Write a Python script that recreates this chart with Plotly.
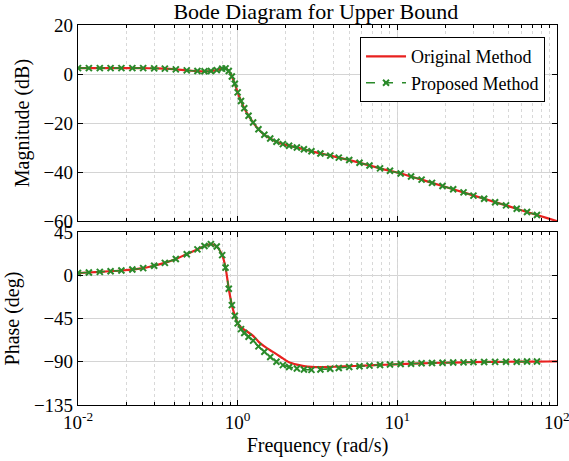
import plotly.graph_objects as go

# ---------------- data ----------------
freq_prop = [0.1, 0.117, 0.137, 0.16, 0.187, 0.219, 0.256, 0.3, 0.35, 0.41, 0.48, 0.56, 0.62, 0.68,
             0.74, 0.8, 0.84, 0.88, 0.92, 0.96, 1.0, 1.05, 1.1, 1.17, 1.25, 1.35, 1.47, 1.6, 1.75,
             1.92, 2.1, 2.35, 2.6, 2.9, 3.3, 3.8, 4.3, 5.0, 5.8, 6.7, 7.8, 9.0, 10.5, 12.2, 14.2,
             16.5, 19.2, 22.4, 26, 30, 35, 41, 48, 56, 65, 75]
mag_prop = [2.4, 2.4, 2.4, 2.4, 2.4, 2.4, 2.4, 2.3, 2.2, 1.9, 1.5, 1.2, 1.1, 1.2,
            1.6, 2.2, 2.3, 1.2, -1.0, -4.0, -7.5, -11.0, -14.0, -17.0, -19.8, -22.5, -24.8, -26.3, -27.6,
            -28.6, -29.3, -30.0, -30.7, -31.5, -32.4, -33.3, -34.1, -35.1, -36.2, -37.3, -38.5, -39.5, -40.6,
            -41.8, -43.1, -44.4, -45.7, -47.0, -48.3, -49.6, -50.9, -52.3, -53.6, -55.0, -56.3, -57.5]
phase_prop = [2.4, 3.0, 3.6, 4.3, 5.0, 6.0, 7.5, 10.0, 13.0, 17.0, 22.0, 27.0, 30.5, 32.5,
              30.0, 21.0, 8.0, -14.0, -31.0, -42.0, -50.0, -56.0, -60.0, -64.0, -68.0, -74.0, -79.5, -85.0, -90.0,
              -93.5, -95.5, -97.0, -98.0, -98.4, -98.0, -97.3, -96.5, -95.5, -94.7, -94.0, -93.4, -92.9, -92.4,
              -92.0, -91.6, -91.3, -91.0, -90.8, -90.6, -90.4, -90.2, -90.1, -90.0, -89.9, -89.8, -89.7]

freq_orig = [0.1, 0.137, 0.187, 0.256, 0.3, 0.35, 0.41, 0.48, 0.56, 0.62, 0.68, 0.74, 0.8, 0.84,
             0.88, 0.92, 0.96, 1.0, 1.05, 1.1, 1.17, 1.25, 1.35, 1.47, 1.6, 1.75, 1.92, 2.1, 2.35,
             2.6, 2.9, 3.3, 3.8, 4.3, 5.0, 5.8, 6.7, 7.8, 9.0, 10.5, 14.2, 19.2, 26, 35, 48, 65, 87, 100]
mag_orig = [2.4, 2.4, 2.4, 2.4, 2.3, 2.2, 1.9, 1.5, 1.2, 1.1, 1.2, 1.6, 2.2, 2.3,
            1.2, -1.0, -4.0, -7.5, -11.0, -14.0, -17.0, -19.8, -22.5, -24.8, -26.3, -27.6, -28.6, -29.3, -30.0,
            -30.7, -31.5, -32.4, -33.3, -34.1, -35.1, -36.2, -37.3, -38.5, -39.5, -40.6, -43.1, -45.7, -48.3,
            -50.9, -53.6, -56.3, -58.8, -60.0]
phase_orig = [2.4, 3.6, 5.0, 7.5, 10.0, 13.0, 17.0, 22.0, 27.0, 30.5, 32.5, 30.0, 21.0, 8.0,
              -14.0, -31.0, -42.0, -50.0, -54.0, -56.5, -59.5, -63.0, -69.0, -74.0, -78.0, -82.0, -86.5, -90.5, -93.0,
              -94.5, -95.3, -95.5, -95.3, -95.0, -94.6, -94.2, -93.8, -93.3, -92.9, -92.4, -91.6, -91.0, -90.6,
              -90.2, -90.0, -89.8, -89.7, -89.6]

x_tickvals = [0.1, 1, 10, 100]
x_ticktext = ["10<sup>-2</sup>", "10<sup>0</sup>", "10<sup>1</sup>", "10<sup>2</sup>"]
mag_ticks = [-60, -40, -20, 0, 20]
phase_ticks = [-135, -90, -45, 0, 45]

RED = "#e8211f"
GREEN = "#2a8a2a"
FONT = "Times New Roman, Liberation Serif, DejaVu Serif, serif"
XRANGE = [-1, 2.0005]

fig = go.Figure()
line_orig = dict(color=RED, width=2.2, shape="spline", smoothing=0.6)
line_prop = dict(color=GREEN, width=1.6, dash="dash", shape="spline", smoothing=0.6)
mk_prop = dict(symbol="x-thin-open", size=6, line=dict(color=GREEN, width=2))

fig.add_trace(go.Scatter(x=freq_orig, y=mag_orig, mode="lines", name="Original Method",
                         line=line_orig, xaxis="x", yaxis="y"))
fig.add_trace(go.Scatter(x=freq_prop, y=mag_prop, mode="lines+markers", name="Proposed Method",
                         line=line_prop, marker=mk_prop, xaxis="x", yaxis="y"))
fig.add_trace(go.Scatter(x=freq_orig, y=phase_orig, mode="lines", showlegend=False,
                         line=line_orig, xaxis="x2", yaxis="y2"))
fig.add_trace(go.Scatter(x=freq_prop, y=phase_prop, mode="lines+markers", showlegend=False,
                         line=line_prop, marker=mk_prop, xaxis="x2", yaxis="y2"))
# invisible traces so that minor-grid overlay axes are drawn
fig.add_trace(go.Scatter(x=[freq_orig[0]], y=[mag_orig[0]], mode="markers", showlegend=False,
                         marker=dict(opacity=0), hoverinfo="skip", xaxis="x3", yaxis="y"))
fig.add_trace(go.Scatter(x=[freq_orig[0]], y=[phase_orig[0]], mode="markers", showlegend=False,
                         marker=dict(opacity=0), hoverinfo="skip", xaxis="x4", yaxis="y2"))

common_x = dict(type="log", range=XRANGE, showline=True, linecolor="black", linewidth=1.2,
                mirror="ticks", ticks="inside", ticklen=5, tickcolor="black",
                showgrid=True, gridcolor="#d4d4d4", gridwidth=1, automargin=False,
                ticklabeloverflow="allow",
                tickvals=x_tickvals, ticktext=x_ticktext, zeroline=False, layer="above traces")
minor_x = dict(type="log", range=XRANGE, showline=False, mirror="ticks", ticks="inside", ticklen=3,
               tickcolor="black", dtick="D1", showticklabels=False, showgrid=True, automargin=False,
               gridcolor="#d8d8d8", griddash="dot", gridwidth=1, zeroline=False)
common_y = dict(showline=True, linecolor="black", linewidth=1.2, mirror="ticks",
                ticks="inside", ticklen=5, tickcolor="black", automargin=False,
                showgrid=True, gridcolor="#d4d4d4", gridwidth=1, zeroline=False,
                tickfont=dict(family=FONT, size=19, color="black"),
                title_font=dict(family=FONT, size=20, color="black"))

fig.update_layout(
    width=569, height=461,
    margin=dict(l=78, r=12, t=25, b=56),
    paper_bgcolor="white", plot_bgcolor="white",
    font=dict(family=FONT, color="black"),
    title=dict(text="Bode Diagram for Upper Bound", x=0.555, xanchor="center", y=0.975, yanchor="middle",
               font=dict(family=FONT, size=22, color="black")),
    xaxis=dict(common_x, anchor="y", domain=[0, 1], showticklabels=False),
    xaxis3=dict(minor_x, anchor="y", overlaying="x"),
    yaxis=dict(common_y, domain=[0.484, 1], range=[-60, 20], tickvals=mag_ticks,
               title=dict(text="Magnitude (dB)", standoff=8)),
    xaxis2=dict(common_x, anchor="y2", domain=[0, 1],
                tickfont=dict(family=FONT, size=19, color="black"),
                title=dict(text="Frequency (rad/s)", standoff=6,
                           font=dict(family=FONT, size=20, color="black"))),
    xaxis4=dict(minor_x, anchor="y2", overlaying="x2"),
    yaxis2=dict(common_y, domain=[0, 0.455], range=[-135, 45], tickvals=phase_ticks,
                title=dict(text="Phase (deg)", standoff=8)),
    legend=dict(x=0.975, y=0.968, xanchor="right", yanchor="top",
                bgcolor="white", bordercolor="black", borderwidth=1,
                font=dict(family=FONT, size=18, color="black"),
                tracegroupgap=0, itemwidth=40),
    showlegend=True,
)

fig.write_html("out.html")
